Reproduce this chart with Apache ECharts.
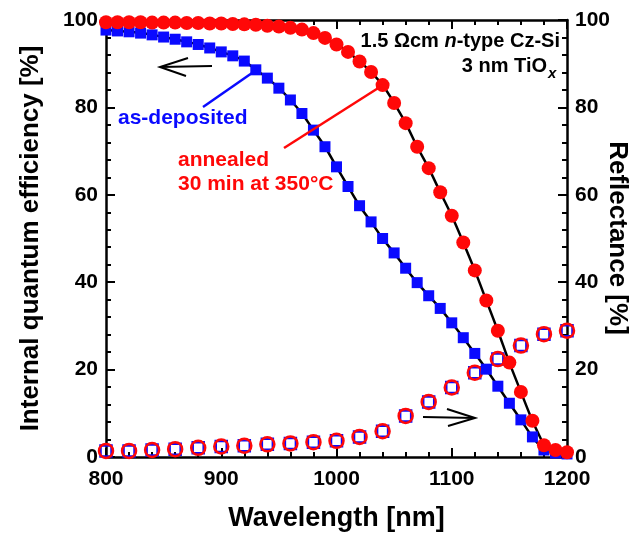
<!DOCTYPE html>
<html>
<head>
<meta charset="utf-8">
<script src="https://cdn.jsdelivr.net/npm/echarts@6/dist/echarts.min.js"></script>
<style>
  html, body { margin: 0; padding: 0; background: #fff; }
  #chart { width: 638px; height: 533px; }
</style>
</head>
<body>
<div id="chart"></div>
<script>
  // wavelength grid of the IQE measurements [nm]
  var iqeWavelength = [800, 810, 820, 830, 840, 850, 860, 870, 880, 890,
    900, 910, 920, 930, 940, 950, 960, 970, 980, 990,
    1000, 1010, 1020, 1030, 1040, 1050, 1060, 1070, 1080, 1090,
    1100, 1110, 1120, 1130, 1140, 1150, 1160, 1170, 1180, 1190, 1200];

  // IQE [%], as-deposited (blue squares)
  var iqeDeposited = [97.7, 97.5, 97.3, 97.0, 96.6, 96.1, 95.6, 95.0, 94.4, 93.6,
    92.7, 91.8, 90.6, 88.6, 86.7, 84.4, 81.7, 78.6, 74.8, 71.0,
    66.4, 61.9, 57.5, 53.8, 50.0, 46.7, 43.2, 39.9, 36.9, 34.0,
    30.7, 27.3, 23.7, 20.1, 16.2, 12.3, 8.5, 4.6, 1.6, 0.9, 0.7];

  // IQE [%], annealed 30 min at 350 C (red circles)
  var iqeAnnealed = [99.5, 99.5, 99.5, 99.5, 99.4, 99.4, 99.4, 99.3, 99.3, 99.2,
    99.2, 99.1, 99.0, 98.9, 98.7, 98.5, 98.2, 97.8, 97.0, 95.9,
    94.4, 92.7, 90.5, 88.1, 85.1, 81.0, 76.4, 71.0, 66.1, 60.6,
    55.2, 49.1, 42.7, 35.8, 28.9, 21.6, 14.9, 8.3, 2.7, 1.6, 1.1];

  // reflectance grid [nm]
  var reflWavelength = [800, 820, 840, 860, 880, 900, 920, 940, 960, 980,
    1000, 1020, 1040, 1060, 1080, 1100, 1120, 1140, 1160, 1180, 1200];

  // reflectance [%]
  var reflDeposited = [1.4, 1.4, 1.6, 1.8, 2.1, 2.4, 2.6, 2.9, 3.1, 3.4,
    3.7, 4.6, 5.9, 9.4, 12.6, 15.9, 19.3, 22.4, 25.5, 28.1, 28.9];
  var reflAnnealed = [1.4, 1.4, 1.6, 1.8, 2.1, 2.4, 2.6, 2.9, 3.1, 3.4,
    3.7, 4.6, 5.9, 9.4, 12.6, 15.9, 19.3, 22.4, 25.5, 28.1, 28.9];

  var yTicks = [0, 20, 40, 60, 80, 100];
  var xTicks = [800, 900, 1000, 1100, 1200];

  var BLUE = '#0a0aff';
  var RED = '#ff0808';
  var FONT = 'Liberation Sans';

  function pairs(xs, ys) {
    return xs.map(function (x, i) { return [x, ys[i]]; });
  }

  // fit lines stop where they reach zero
  var fitEnd = iqeWavelength.indexOf(1180) + 1;

  var label = { color: '#000', fontFamily: FONT, fontWeight: 'bold', fontSize: 21,
    formatter: function (v) { return String(v); } };
  var line = { lineStyle: { color: '#000', width: 2.5 } };

  function xAx(pos, show) {
    return {
      type: 'value', position: pos, min: xTicks[0], max: xTicks[xTicks.length - 1], interval: 100,
      axisLine: { onZero: false, lineStyle: { color: '#000', width: 2.5 } },
      axisTick: { inside: true, length: 9, lineStyle: { color: '#000', width: 2 } },
      minorTick: { show: true, splitNumber: 5, length: 5, lineStyle: { color: '#000', width: 2 } },
      splitLine: { show: false },
      axisLabel: Object.assign({ show: show, margin: 12 }, label),
      name: show ? 'Wavelength [nm]' : '',
      nameLocation: 'middle', nameGap: 48,
      nameTextStyle: { color: '#000', fontFamily: FONT, fontWeight: 'bold', fontSize: 27 }
    };
  }

  function yAx(pos, name) {
    return {
      type: 'value', position: pos, min: yTicks[0], max: yTicks[yTicks.length - 1], interval: 20,
      axisLine: { onZero: false, lineStyle: { color: '#000', width: 2.5 } },
      axisTick: { inside: true, length: 9, lineStyle: { color: '#000', width: 2 } },
      minorTick: { show: true, splitNumber: 5, length: 5, lineStyle: { color: '#000', width: 2 } },
      splitLine: { show: false },
      axisLabel: Object.assign({ margin: 8 }, label),
      name: name, nameLocation: 'middle', nameGap: 62, nameRotate: 90,
      nameTextStyle: { color: '#000', fontFamily: FONT, fontWeight: 'bold', fontSize: 26 }
    };
  }

  var option = {
    animation: false,
    backgroundColor: '#fff',
    grid: { left: 106, right: 71, top: 20, bottom: 76, outerBoundsMode: 'none', containLabel: false },
    xAxis: [xAx('bottom', true), xAx('top', false)],
    yAxis: [
      yAx('left', 'Internal quantum efficiency [%]'),
      yAx('right', '')
    ],
    series: [
      {
        name: 'fit deposited', type: 'line', smooth: 0.3, showSymbol: false, z: 1,
        data: pairs(iqeWavelength.slice(0, fitEnd), iqeDeposited.slice(0, fitEnd)),
        lineStyle: line.lineStyle
      },
      {
        name: 'fit annealed', type: 'line', smooth: 0.3, showSymbol: false, z: 1,
        data: pairs(iqeWavelength.slice(0, fitEnd), iqeAnnealed.slice(0, fitEnd)),
        lineStyle: line.lineStyle
      },
      {
        name: 'R deposited', type: 'scatter', yAxisIndex: 1, symbol: 'rect', symbolSize: 11, z: 2,
        data: pairs(reflWavelength, reflDeposited),
        itemStyle: { color: 'rgba(0,0,0,0)', borderColor: BLUE, borderWidth: 2.5, opacity: 1 }
      },
      {
        name: 'R annealed', type: 'scatter', yAxisIndex: 1, symbol: 'circle', symbolSize: 14, z: 3,
        data: pairs(reflWavelength, reflAnnealed),
        itemStyle: { color: 'rgba(0,0,0,0)', borderColor: RED, borderWidth: 2.5, opacity: 1 }
      },
      {
        name: 'IQE deposited', type: 'scatter', symbol: 'rect', symbolSize: 11, z: 4,
        data: pairs(iqeWavelength, iqeDeposited),
        itemStyle: { color: BLUE, opacity: 1 }
      },
      {
        name: 'IQE annealed', type: 'scatter', symbol: 'circle', symbolSize: 14, z: 5,
        data: pairs(iqeWavelength, iqeAnnealed),
        itemStyle: { color: RED, opacity: 1 }
      }
    ],
    graphic: [
      // right axis title, reads top to bottom
      { type: 'text', z: 10, x: 617, y: 238, rotation: -Math.PI / 2,
        style: { text: 'Reflectance [%]', x: 0, y: 0, align: 'center', verticalAlign: 'middle',
          font: 'bold 26px "Liberation Sans"', fill: '#000' } },
      // sample description
      { type: 'text', z: 10, style: { text: '1.5 \u03A9cm {i|n}-type Cz-Si', x: 560, y: 41, align: 'right', verticalAlign: 'middle',
        font: 'bold 20px "Liberation Sans"', fill: '#000',
        rich: { i: { fontStyle: 'italic', fontWeight: 'bold', fontSize: 20, fontFamily: FONT } } } },
      { type: 'text', z: 10, style: { text: '3 nm TiO', x: 547, y: 66, align: 'right', verticalAlign: 'middle',
        font: 'bold 20px "Liberation Sans"', fill: '#000' } },
      { type: 'text', z: 10, style: { text: 'x', x: 548, y: 74, align: 'left', verticalAlign: 'middle',
        font: 'italic bold 15px "Liberation Sans"', fill: '#000' } },
      // sample labels with pointers
      { type: 'text', z: 10, style: { text: 'as-deposited', x: 118, y: 118, verticalAlign: 'middle',
        font: 'bold 21px "Liberation Sans"', fill: BLUE } },
      { type: 'line', z: 10, shape: { x1: 203, y1: 107, x2: 252, y2: 73 }, style: { stroke: BLUE, lineWidth: 2.5 } },
      { type: 'text', z: 10, style: { text: 'annealed', x: 178, y: 160, verticalAlign: 'middle',
        font: 'bold 21px "Liberation Sans"', fill: RED } },
      { type: 'text', z: 10, style: { text: '30 min at 350\u00B0C', x: 178, y: 184, verticalAlign: 'middle',
        font: 'bold 21px "Liberation Sans"', fill: RED } },
      { type: 'line', z: 10, shape: { x1: 284, y1: 148, x2: 383, y2: 85 }, style: { stroke: RED, lineWidth: 2.5 } },
      // axis arrows
      { type: 'line', z: 10, shape: { x1: 160, y1: 67, x2: 212, y2: 66 }, style: { stroke: '#000', lineWidth: 2 } },
      { type: 'polyline', z: 10, shape: { points: [[188, 58], [160, 67], [186, 76]] }, style: { stroke: '#000', lineWidth: 2, fill: null } },
      { type: 'line', z: 10, shape: { x1: 423, y1: 417, x2: 475, y2: 418 }, style: { stroke: '#000', lineWidth: 2 } },
      { type: 'polyline', z: 10, shape: { points: [[447, 409], [475, 418], [448, 426]] }, style: { stroke: '#000', lineWidth: 2, fill: null } }
    ]
  };

  echarts.init(document.getElementById('chart')).setOption(option);
</script>
</body>
</html>
